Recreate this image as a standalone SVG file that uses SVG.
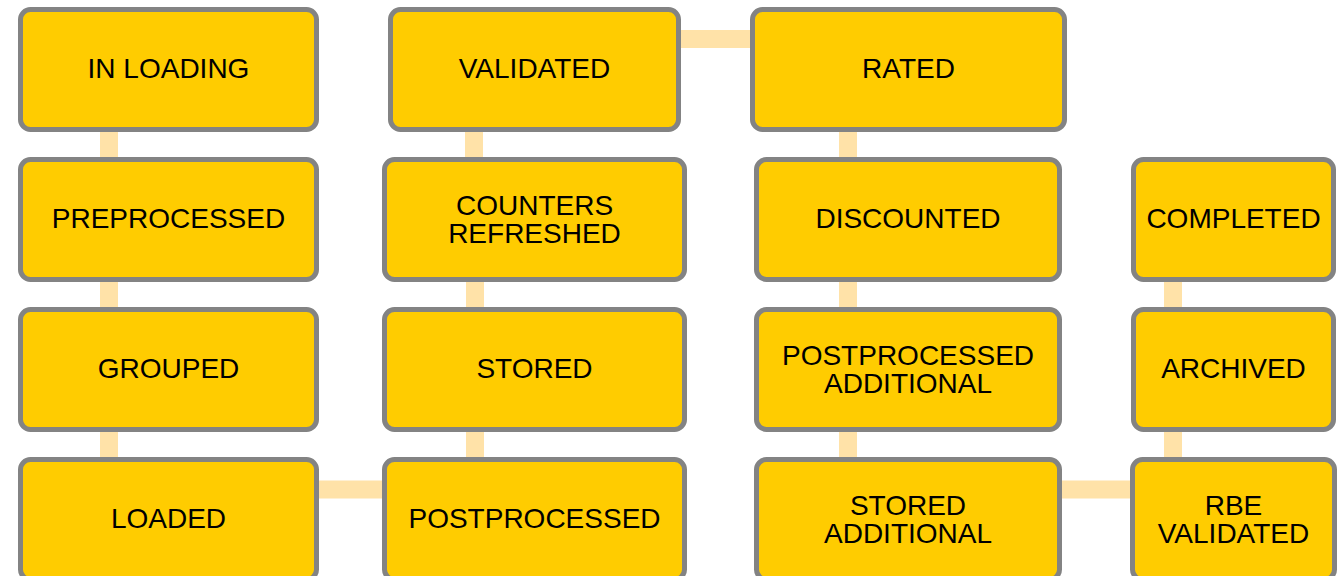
<svg xmlns="http://www.w3.org/2000/svg" width="1338" height="576" viewBox="0 0 1338 576">
  <style>
    .node rect { fill: #FFCC00; stroke: #838383; stroke-width: 5; }
    .node text { font-family: "Liberation Sans", Arial, sans-serif; font-size: 28px; fill: #000; text-anchor: middle; }
    .link { stroke: #FFE2A8; stroke-width: 18; fill: none; }
  </style>
  <rect width="1338" height="576" fill="#fff"/>

  <!-- connectors between states -->
  <g id="connectors">
    <line class="link" x1="109" y1="130" x2="109" y2="160"/>
    <line class="link" x1="109" y1="280" x2="109" y2="310"/>
    <line class="link" x1="109" y1="430" x2="109" y2="460"/>
    <line class="link" x1="317" y1="489.5" x2="385" y2="489.5"/>
    <line class="link" x1="475" y1="430" x2="475" y2="460"/>
    <line class="link" x1="475" y1="280" x2="475" y2="310"/>
    <line class="link" x1="474" y1="130" x2="474" y2="160"/>
    <line class="link" x1="679" y1="39" x2="753" y2="39"/>
    <line class="link" x1="848" y1="130" x2="848" y2="160"/>
    <line class="link" x1="848" y1="280" x2="848" y2="310"/>
    <line class="link" x1="848" y1="430" x2="848" y2="460"/>
    <line class="link" x1="1060" y1="489.5" x2="1132" y2="489.5"/>
    <line class="link" x1="1173" y1="430" x2="1173" y2="460"/>
    <line class="link" x1="1173" y1="280" x2="1173" y2="310"/>
  </g>

  <!-- column 1 -->
  <g id="in-loading" class="node">
    <rect x="20.5" y="9.5" width="296" height="120" rx="10"/>
    <text x="168.5" y="77.5">IN LOADING</text>
  </g>
  <g id="preprocessed" class="node">
    <rect x="20.5" y="159.5" width="296" height="120" rx="10"/>
    <text x="168.5" y="227.5">PREPROCESSED</text>
  </g>
  <g id="grouped" class="node">
    <rect x="20.5" y="309.5" width="296" height="120" rx="10"/>
    <text x="168.5" y="377.5">GROUPED</text>
  </g>
  <g id="loaded" class="node">
    <rect x="20.5" y="459.5" width="296" height="120" rx="10"/>
    <text x="168.5" y="527.5">LOADED</text>
  </g>

  <!-- column 2 -->
  <g id="validated" class="node">
    <rect x="390.5" y="9.5" width="288" height="120" rx="10"/>
    <text x="534.5" y="77.5">VALIDATED</text>
  </g>
  <g id="counters-refreshed" class="node">
    <rect x="384.5" y="159.5" width="300" height="120" rx="10"/>
    <text x="534.5" y="214.5">COUNTERS</text>
    <text x="534.5" y="242.5">REFRESHED</text>
  </g>
  <g id="stored" class="node">
    <rect x="384.5" y="309.5" width="300" height="120" rx="10"/>
    <text x="534.5" y="377.5">STORED</text>
  </g>
  <g id="postprocessed" class="node">
    <rect x="384.5" y="459.5" width="300" height="120" rx="10"/>
    <text x="534.5" y="527.5">POSTPROCESSED</text>
  </g>

  <!-- column 3 -->
  <g id="rated" class="node">
    <rect x="752.5" y="9.5" width="312" height="120" rx="10"/>
    <text x="908.5" y="77.5">RATED</text>
  </g>
  <g id="discounted" class="node">
    <rect x="756.5" y="159.5" width="303" height="120" rx="10"/>
    <text x="908" y="227.5">DISCOUNTED</text>
  </g>
  <g id="postprocessed-additional" class="node">
    <rect x="756.5" y="309.5" width="303" height="120" rx="10"/>
    <text x="908" y="364.5">POSTPROCESSED</text>
    <text x="908" y="392.5">ADDITIONAL</text>
  </g>
  <g id="stored-additional" class="node">
    <rect x="756.5" y="459.5" width="303" height="120" rx="10"/>
    <text x="908" y="514.5">STORED</text>
    <text x="908" y="542.5">ADDITIONAL</text>
  </g>

  <!-- column 4 -->
  <g id="completed" class="node">
    <rect x="1133.5" y="159.5" width="200" height="120" rx="10"/>
    <text x="1233.5" y="227.5">COMPLETED</text>
  </g>
  <g id="archived" class="node">
    <rect x="1133.5" y="309.5" width="200" height="120" rx="10"/>
    <text x="1233.5" y="377.5">ARCHIVED</text>
  </g>
  <g id="rbe-validated" class="node">
    <rect x="1132.5" y="459.5" width="202" height="120" rx="10"/>
    <text x="1233.5" y="514.5">RBE</text>
    <text x="1233.5" y="542.5">VALIDATED</text>
  </g>
</svg>
